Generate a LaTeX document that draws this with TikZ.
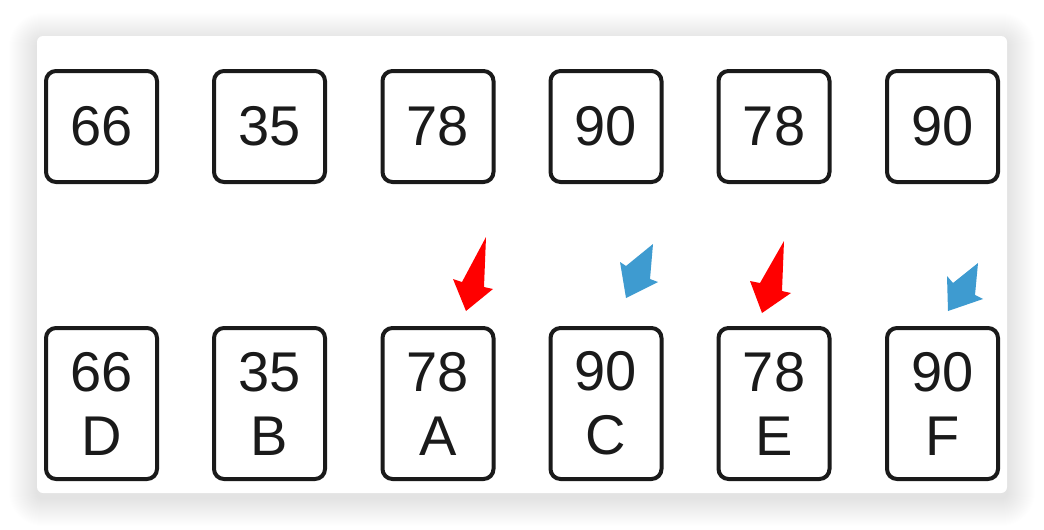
\documentclass[tikz,border=0pt]{standalone}
\usepackage{fontspec}
\setmainfont{Liberation Sans}
\definecolor{arrowred}{HTML}{FF0000}
\definecolor{arrowblue}{HTML}{3E9BD0}
\definecolor{boxline}{HTML}{1A1A1A}
\begin{document}
\begin{tikzpicture}[x=1pt,y=-1pt,
  cell/.style={draw=boxline, line width=4pt, rounded corners=10pt, fill=white,
    minimum width=111pt, inner sep=0pt, font=\fontsize{56}{64}\selectfont, align=center, text=boxline},
  topcell/.style={cell, minimum height=111pt},
  botcell/.style={cell, minimum height=151pt},
  redmark/.style={fill=arrowred, draw=none},
  bluemark/.style={fill=arrowblue, draw=none}]
\useasboundingbox (0,0) rectangle (1044,530);
\fill[white] (0,0) rectangle (1044,530);
% soft shadow of the card
\foreach \i in {1,...,28}{
  \fill[black, opacity=0.0055, rounded corners=6pt+\i pt]
    (37-\i,36-\i+5) rectangle (1007+\i,493+\i+5);
}
\fill[white, rounded corners=6pt] (37,36) rectangle (1007,493);
% top row
\node[topcell] (t1) at (101.5,126.5) {66};
\node[topcell] (t2) at (269.5,126.5) {35};
\node[topcell] (t3) at (438,126.5) {78};
\node[topcell] (t4) at (606,126.5) {90};
\node[topcell] (t5) at (774,126.5) {78};
\node[topcell] (t6) at (942.5,126.5) {90};
% bottom row
\node[botcell] (b1) at (101.5,403.5) {66\\D};
\node[botcell] (b2) at (269.5,403.5) {35\\B};
\node[botcell] (b3) at (438,403.5) {78\\A};
\node[botcell] (b4) at (606,403.5) {90\\C};
\node[botcell] (b5) at (774,403.5) {78\\E};
\node[botcell] (b6) at (942.5,403.5) {90\\F};
% markers
\fill[redmark] (486,237) -- (462,282) -- (453,279) -- (466,311) -- (493,289) -- (484,287) -- cycle;
\fill[redmark] (784,241) -- (760,283) -- (750,281) -- (762,313) -- (791,293) -- (782,291) -- cycle;
\fill[bluemark] (653,244) -- (626,266) -- (620,262) -- (626,298) -- (658,282) -- (650,279) -- cycle;
\fill[bluemark] (978,263) -- (953,283) -- (947,276) -- (948,311) -- (983,299) -- (975,295) -- cycle;
\end{tikzpicture}
\end{document}
